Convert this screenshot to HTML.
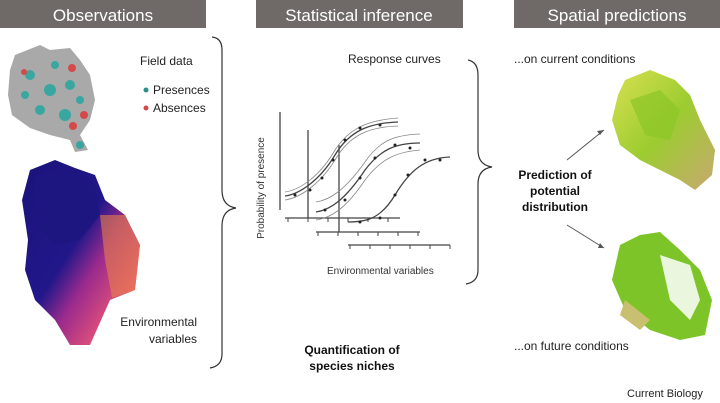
<!DOCTYPE html>
<html><head><meta charset="utf-8"><style>
html,body{margin:0;padding:0;background:#fff}
svg{display:block}
text{font-family:"Liberation Sans",sans-serif}
</style></head><body>
<svg width="720" height="403" viewBox="0 0 720 403">
<rect x="0" y="0" width="206" height="28" fill="#6f6a67"/>
<rect x="256" y="0" width="207" height="28" fill="#6f6a67"/>
<rect x="514" y="0" width="206" height="28" fill="#6f6a67"/>
<text x="103" y="21" font-size="17" fill="#fff" text-anchor="middle">Observations</text>
<text x="359" y="21" font-size="17" fill="#fff" text-anchor="middle">Statistical inference</text>
<text x="617" y="21" font-size="17" fill="#fff" text-anchor="middle">Spatial predictions</text>

<path d="M15,55 L40,45 L50,50 L70,48 L80,60 L90,75 L95,100 L90,120 L80,135 L88,150 L75,152 L70,140 L50,135 L30,128 L12,115 L8,95 L10,70 Z" fill="#a9a9a9"/>
<g fill="#3aa6a0">
<circle cx="30" cy="75" r="5"/><circle cx="50" cy="90" r="6"/><circle cx="70" cy="85" r="5"/><circle cx="40" cy="110" r="5"/><circle cx="65" cy="115" r="6"/><circle cx="80" cy="100" r="4"/><circle cx="25" cy="95" r="4"/><circle cx="55" cy="65" r="4"/><circle cx="80" cy="145" r="4"/>
</g>
<g fill="#d44a4a"><circle cx="72" cy="68" r="4"/><circle cx="84" cy="115" r="4"/><circle cx="73" cy="126" r="4"/><circle cx="24" cy="72" r="3"/></g>
<text x="140" y="65" font-size="12" fill="#222">Field data</text>
<circle cx="146" cy="90" r="2.5" fill="#2c8f8a"/><text x="153" y="94" font-size="12" fill="#222">Presences</text>
<circle cx="146" cy="108" r="2.5" fill="#d44a4a"/><text x="153" y="112" font-size="12" fill="#222">Absences</text>

<defs>
<linearGradient id="env" x1="0" y1="0" x2="1" y2="1">
<stop offset="0" stop-color="#1a137a"/><stop offset="0.45" stop-color="#22178a"/><stop offset="0.6" stop-color="#9a2a8c"/><stop offset="0.8" stop-color="#e0507a"/><stop offset="1" stop-color="#f0903a"/>
</linearGradient>
<linearGradient id="grn" x1="0" y1="0" x2="1" y2="1"><stop offset="0" stop-color="#d8e050"/><stop offset="0.5" stop-color="#9ccc30"/><stop offset="1" stop-color="#c8a870"/></linearGradient>
</defs>
<path d="M30,170 L55,160 L75,168 L95,175 L105,200 L125,215 L140,245 L135,290 L110,300 L90,345 L70,345 L55,320 L35,300 L25,270 L28,240 L22,200 Z" fill="url(#env)"/>
<path d="M35,175 L75,168 L95,185 L100,215 L80,240 L55,245 L35,225 Z" fill="#1e1680"/>
<path d="M100,215 L125,215 L140,245 L135,290 L112,298 L105,260 Z" fill="#e8804a" opacity="0.6"/>
<text x="197" y="326" font-size="12" fill="#222" text-anchor="end">Environmental</text>
<text x="197" y="343" font-size="12" fill="#222" text-anchor="end">variables</text>

<path d="M212,37 Q222,38 222,50 L222,190 Q222,206 236,208 Q222,210 222,226 L222,354 Q222,366 210,368" fill="none" stroke="#333" stroke-width="1.2"/>

<text x="348" y="63" font-size="12" fill="#222">Response curves</text>
<text x="264" y="188" font-size="10" fill="#333" transform="rotate(-90 264 188)" text-anchor="middle">Probability of presence</text>
<g stroke="#444" stroke-width="1.3" fill="none">
<line x1="280" y1="112" x2="280" y2="210"/>
<line x1="308" y1="130" x2="308" y2="218"/>
<line x1="339" y1="145" x2="339" y2="232"/>
<line x1="285" y1="218" x2="400" y2="218"/>
<line x1="316" y1="232" x2="420" y2="232"/>
<line x1="348" y1="245" x2="450" y2="245"/>
<path d="M285,196 C300,194 320,180 335,155 C350,130 370,123 398,122"/>
<path d="M316,212 C330,210 345,200 365,170 C380,150 395,143 420,143"/>
<path d="M348,222 C365,222 380,220 395,195 C410,170 425,158 450,157"/>
</g>
<g stroke="#444" stroke-width="1">
<path d="M288,218v4M308,218v4M328,218v4M348,218v4M368,218v4M388,218v4M318,232v4M338,232v4M358,232v4M378,232v4M398,232v4M418,232v4M350,245v4M370,245v4M390,245v4M410,245v4M430,245v4M450,245v4"/>
</g>
<g stroke="#888" stroke-width="0.8" fill="none">
<path d="M285,192 C300,190 320,176 335,150 C350,127 370,120 398,118"/>
<path d="M285,200 C300,198 320,184 335,160 C350,134 370,127 398,126"/>
<path d="M316,202 C330,200 345,190 365,162 C380,140 395,135 420,134"/>
<path d="M316,220 C330,218 345,210 365,180 C380,160 395,152 420,150"/>
</g>
<g fill="#222">
<circle cx="295" cy="195" r="1.5"/><circle cx="310" cy="190" r="1.5"/><circle cx="322" cy="178" r="1.5"/><circle cx="333" cy="160" r="1.5"/><circle cx="345" cy="140" r="1.5"/><circle cx="360" cy="128" r="1.5"/><circle cx="380" cy="125" r="1.5"/>
<circle cx="325" cy="210" r="1.5"/><circle cx="345" cy="200" r="1.5"/><circle cx="360" cy="178" r="1.5"/><circle cx="375" cy="158" r="1.5"/><circle cx="395" cy="145" r="1.5"/><circle cx="410" cy="148" r="1.5"/>
<circle cx="360" cy="222" r="1.5"/><circle cx="380" cy="218" r="1.5"/><circle cx="395" cy="195" r="1.5"/><circle cx="408" cy="175" r="1.5"/><circle cx="425" cy="160" r="1.5"/><circle cx="440" cy="160" r="1.5"/>
</g>
<text x="327" y="274" font-size="10" fill="#333">Environmental variables</text>
<text x="352" y="354" font-size="12" font-weight="bold" fill="#111" text-anchor="middle">Quantification of</text>
<text x="352" y="370" font-size="12" font-weight="bold" fill="#111" text-anchor="middle">species niches</text>

<path d="M468,60 Q478,62 478,75 L478,150 Q478,165 492,167 Q478,169 478,184 L478,270 Q478,282 466,284" fill="none" stroke="#333" stroke-width="1.2"/>
<text x="555" y="179" font-size="12" font-weight="bold" fill="#111" text-anchor="middle">Prediction of</text>
<text x="555" y="195" font-size="12" font-weight="bold" fill="#111" text-anchor="middle">potential</text>
<text x="555" y="211" font-size="12" font-weight="bold" fill="#111" text-anchor="middle">distribution</text>
<line x1="567" y1="160" x2="604" y2="130" stroke="#555" stroke-width="1"/>
<path d="M604,130 l-7,1 l3,4 z" fill="#555"/>
<line x1="567" y1="225" x2="604" y2="248" stroke="#555" stroke-width="1"/>
<path d="M604,248 l-4,-5 l-2,5 z" fill="#555"/>

<text x="514" y="63" font-size="12" fill="#222">...on current conditions</text>
<path d="M625,80 L650,70 L675,80 L690,95 L700,120 L715,150 L712,175 L695,190 L680,180 L660,170 L640,160 L620,145 L612,120 L618,95 Z" fill="url(#grn)"/>
<path d="M630,100 L660,90 L680,110 L670,140 L645,135 Z" fill="#8cc628" opacity="0.7"/>
<path d="M620,245 L640,235 L660,232 L680,250 L700,270 L712,300 L705,335 L680,340 L650,330 L625,310 L612,280 Z" fill="#7cc428"/>
<path d="M660,255 L690,265 L700,300 L690,320 L670,300 Z" fill="#fff" opacity="0.85"/>
<path d="M625,300 L650,320 L640,330 L620,315 Z" fill="#c8c070"/>
<text x="514" y="350" font-size="12" fill="#222">...on future conditions</text>
<text x="627" y="397" font-size="11" fill="#222">Current Biology</text>
</svg>
</body></html>
